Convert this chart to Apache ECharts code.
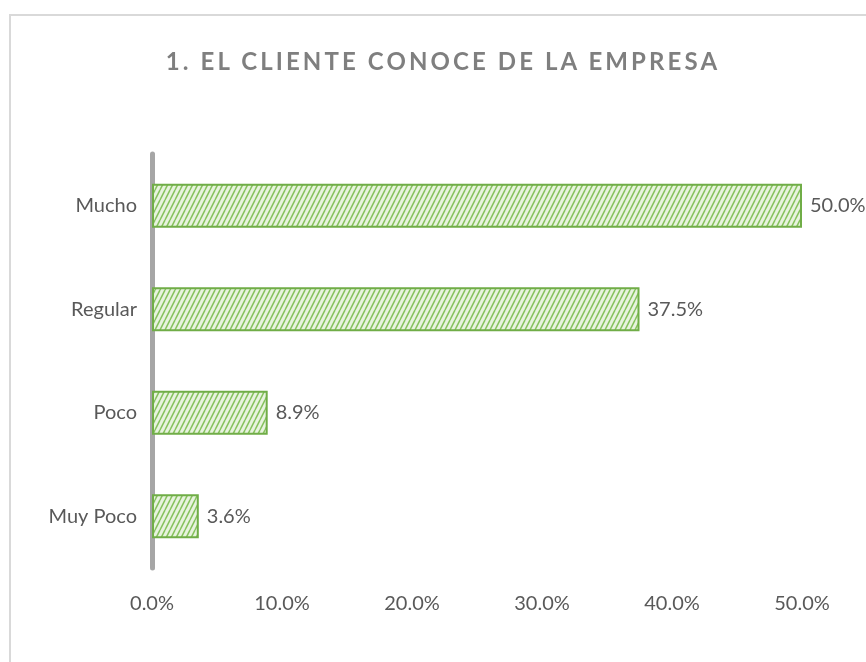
<!DOCTYPE html>
<html>
<head>
<meta charset="utf-8">
<script src="https://cdn.jsdelivr.net/npm/echarts@6/dist/echarts.min.js"></script>
<style>
    html,body{margin:0;padding:0;background:#fff;}
    #wrap{position:relative;width:866px;height:662px;overflow:hidden;}
    #frame{position:absolute;left:9px;top:14px;width:900px;height:700px;border:2px solid #d9d9d9;box-sizing:border-box;}
    #chart{position:absolute;left:0;top:0;width:866px;height:662px;}
    #title{position:absolute;left:0;top:46px;width:886px;text-align:center;font-family:Lato,"Open Sans",sans-serif;font-weight:bold;font-size:24px;letter-spacing:3.1px;color:#7f7f7f;}
</style>
</head>
<body>
<div id="wrap">
    <div id="frame"></div>
    <div id="chart"></div>
    <div id="title">1. EL CLIENTE CONOCE DE LA EMPRESA</div>
</div>
<script>
"use strict";
/*data*/
let categories = ['Mucho','Regular','Poco','Muy Poco'];
let values = [50.0, 37.5, 8.9, 3.6];
let xTicks = [0, 10, 20, 30, 40, 50];

/*hatch fill*/
function hatch(){
    let c = document.createElement('canvas');
    let w = 5, h = 10;
    c.width = w; c.height = h;
    let g = c.getContext('2d');
    g.fillStyle = '#e8f3df';
    g.fillRect(0,0,w,h);
    g.strokeStyle = '#86c25e';
    g.lineWidth = 1.5;
    for (let k=-1;k<=1;k++){
        g.beginPath();
        g.moveTo(k*w, h);
        g.lineTo(k*w + w, 0);
        g.stroke();
    }
    return c;
}

let font = 'Lato,"Open Sans",sans-serif';
let chart = echarts.init(document.getElementById('chart'));
let option = {
    animation:false,
    grid:{left:152,right:64,top:154,bottom:94},
    xAxis:{
        type:'value',
        min:xTicks[0],
        max:xTicks[xTicks.length-1],
        interval:10,
        axisLine:{show:false},
        axisTick:{show:false},
        splitLine:{show:false},
        axisLabel:{
            margin:26,
            color:'#595959',
            fontFamily:font,
            fontSize:20,
            formatter:v=>v.toFixed(1)+'%'
        }
    },
    yAxis:{
        type:'category',
        inverse:true,
        data:categories,
        axisLine:{show:true,lineStyle:{color:'#a6a6a6',width:5}},
        axisTick:{show:false},
        axisLabel:{
            margin:15,
            color:'#595959',
            fontFamily:font,
            fontSize:20
        }
    },
    series:[{
        type:'bar',
        data:values,
        barWidth:44,
        itemStyle:{
            color:{image:hatch(),repeat:'repeat'},
            borderColor:'#70ad47',
            borderWidth:2
        },
        label:{
            show:true,
            position:'right',
            distance:8,
            color:'#595959',
            fontFamily:font,
            fontSize:20,
            formatter:p=>p.value.toFixed(1)+'%'
        }
    }]
};
chart.setOption(option);
</script>
</body>
</html>
